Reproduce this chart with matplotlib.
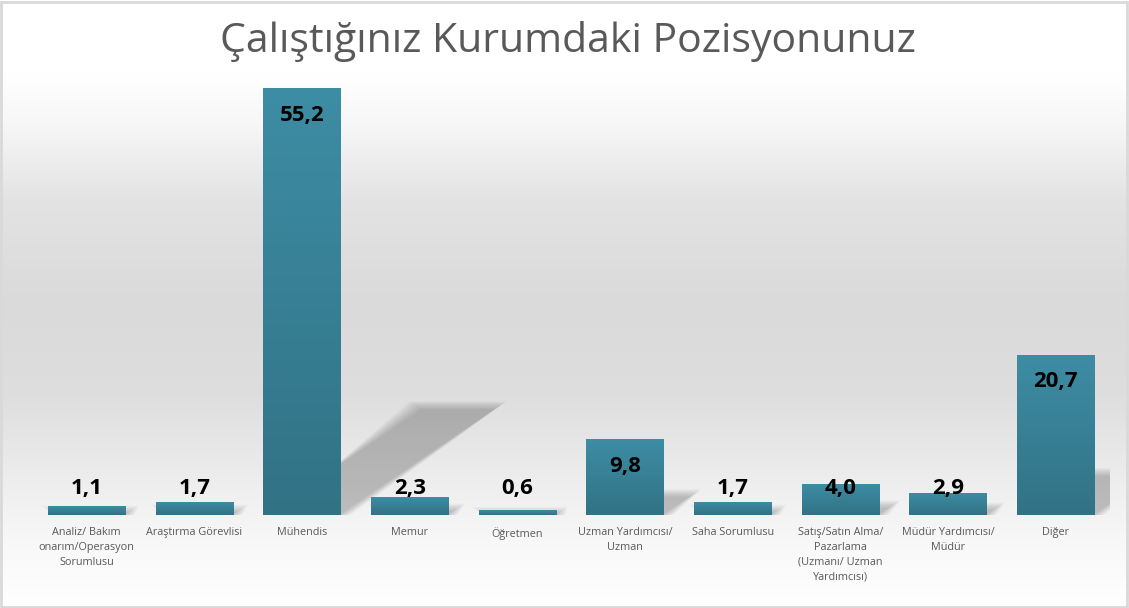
import numpy as np
import matplotlib.pyplot as plt
from matplotlib.patches import Polygon

categories = ['Analiz/ Bakım\nonarım/Operasyon\nSorumlusu', 'Araştırma Görevlisi', 'Mühendis',
              'Memur', 'Öğretmen', 'Uzman Yardımcısı/\nUzman', 'Saha Sorumlusu',
              'Satış/Satın Alma/\nPazarlama\n(Uzmanı/ Uzman\nYardımcısı)',
              'Müdür Yardımcısı/\nMüdür', 'Diğer']
values = [1.1, 1.7, 55.2, 2.3, 0.6, 9.8, 1.7, 4.0, 2.9, 20.7]
labels = ['1,1', '1,7', '55,2', '2,3', '0,6', '9,8', '1,7', '4,0', '2,9', '20,7']
title = 'Çalıştığınız Kurumdaki Pozisyonunuz'

fig = plt.figure(figsize=(11.29, 6.08), dpi=100)

# background gradient (white -> light gray -> white)
bg = fig.add_axes([0, 0, 1, 1], zorder=-10)
yy = np.linspace(0, 1, 400)
shade = np.interp(yy, [0, 0.12, 0.2, 0.33, 0.5, 0.65, 0.8, 0.9, 1.0],
                  [1.0, 1.0, 0.97, 0.89, 0.855, 0.87, 0.935, 0.975, 1.0])
bg_img = np.stack([shade, shade, shade], axis=-1)[:, None, :]
bg.imshow(bg_img, aspect='auto', extent=[0, 1, 1, 0])
bg.set_xlim(0, 1)
bg.set_ylim(1, 0)
bg.axis('off')
# border
bg.add_patch(plt.Rectangle((0.001, 0.002), 0.997, 0.995, fill=False,
                           edgecolor='#d9d9d9', linewidth=2, transform=bg.transAxes))

ax = fig.add_axes([0.029, 0.153, 0.954, 0.763])
ax.patch.set_alpha(0)
for s in ax.spines.values():
    s.set_visible(False)

x = np.arange(len(values))
bw = 0.72
bars = ax.bar(x, values, width=bw, color='#387f95', zorder=3)

# soft perspective shadows (many faint layers to look blurred)
for xi, v in zip(x, values):
    h = v * 0.25
    dx = h * 0.105
    for k in range(10):
        e = 0.09 - 0.012 * k
        ey = 0.9 - 0.11 * k
        poly = Polygon([(xi - bw / 2 + 0.05 + e, 0), (xi + bw / 2 + e, 0),
                        (xi + bw / 2 + dx + e, h + ey),
                        (xi - bw / 2 + dx - e, h + ey)],
                       closed=True, facecolor='black', edgecolor='none',
                       alpha=0.022, zorder=1)
        ax.add_patch(poly)

# gradient fill for bars
grad = np.linspace(0, 1, 256)[:, None]
top = np.array([0x3d, 0x8d, 0xa4]) / 255
bot = np.array([0x32, 0x72, 0x85]) / 255
img = top[None, None, :] * (1 - grad[..., None]) + bot[None, None, :] * grad[..., None]
for b in bars:
    x0, w, h = b.get_x(), b.get_width(), b.get_height()
    im = ax.imshow(img, extent=[x0, x0 + w, 0, h], aspect='auto', zorder=4)
    im.set_clip_path(b)
ax.set_xlim(-0.5, len(values) - 0.5)
ax.set_ylim(0, 60)

for xi, v, lab in zip(x, values, labels):
    ax.text(xi, max(v, 6.9) - 3.5, lab, ha='center', va='center',
            fontsize=16, fontweight='bold', family='Open Sans', color='black', zorder=6)

ax.set_yticks([])
ax.set_xticks(x)
ax.set_xticklabels(categories, fontsize=7.8, color='#595959', family='Open Sans',
                   linespacing=1.45, va='top')
ax.tick_params(axis='x', length=0, pad=9)

fig.text(0.503, 0.932, title, ha='center', va='center', fontsize=29.5,
         family='Open Sans', color='#595959')

fig.savefig('out.png', dpi=100)
